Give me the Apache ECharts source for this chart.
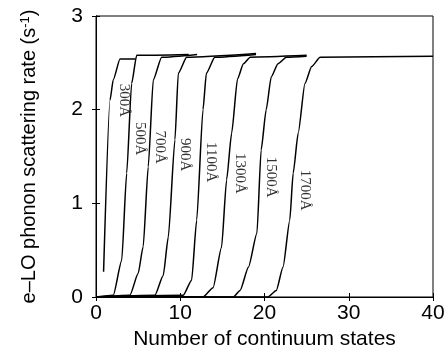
<!DOCTYPE html>
<html>
<head>
<meta charset="utf-8">
<script src="https://cdn.jsdelivr.net/npm/echarts@6/dist/echarts.min.js"></script>
<style>
  html, body { margin: 0; padding: 0; background: #fff; }
  #main { width: 448px; height: 360px; }
</style>
</head>
<body>
<div id="main"></div>
<script>
// curves: x = number of continuum states, y = rate
const names = ['300Å', '500Å', '700Å', '900Å', '1100Å', '1300Å', '1500Å', '1700Å'];

const x300 = [0.9, 1.66, 2.05, 2.85, 4.7];
const y300 = [0.27, 2.1, 2.32, 2.54, 2.54];

const x500 = [0, 2.05, 3.05, 3.64, 4.23, 4.83, 11];
const y500 = [0, 0.02, 0.39, 1.32, 2.28, 2.58, 2.59];

const x700 = [0, 4.03, 5.0, 5.6, 6.2, 6.8, 7.79, 12];
const y700 = [0, 0.02, 0.25, 0.54, 1.39, 2.32, 2.56, 2.59];

const x900 = [0, 7.0, 7.98, 8.58, 9.37, 9.77, 10.76, 19];
const y900 = [0, 0.02, 0.23, 0.64, 1.68, 2.39, 2.56, 2.6];

const x1100 = [0, 10.36, 11.35, 11.95, 12.7, 13.1, 14.1, 19];
const y1100 = [0, 0.02, 0.18, 0.82, 2.0, 2.39, 2.56, 2.59];

const x1300 = [0, 12.7, 13.9, 14.9, 15.5, 16.1, 16.8, 17.5, 18.3, 25];
const y1300 = [0, 0, 0.1, 0.53, 1.25, 1.75, 2.33, 2.49, 2.56, 2.58];

const x1500 = [0, 16.3, 17.1, 18.1, 19.1, 19.6, 20.2, 20.8, 21.6, 22.6, 25];
const y1500 = [0, 0, 0.07, 0.32, 0.68, 1.57, 2.0, 2.35, 2.49, 2.56, 2.57];

const x1700 = [0, 20.4, 21.4, 22.2, 23.0, 23.4, 24.0, 24.8, 25.6, 26.6, 40];
const y1700 = [0, 0, 0.07, 0.32, 0.82, 1.32, 1.75, 2.28, 2.46, 2.56, 2.57];

const curveX = [x300, x500, x700, x900, x1100, x1300, x1500, x1700];
const curveY = [y300, y500, y700, y900, y1100, y1300, y1500, y1700];

// where each thickness label sits (data coordinates)
const labelX = [3.32, 5.2, 7.6, 10.55, 13.6, 17.1, 20.8, 24.8];
const labelY = [2.1, 1.69, 1.6, 1.52, 1.44, 1.32, 1.28, 1.14];

const xTicks = [0, 10, 20, 30, 40];
const yTicks = [0, 1, 2, 3];

const chart = echarts.init(document.getElementById('main'));

const lineSeries = names.map((n, i) => ({
  name: n,
  type: 'line',
  showSymbol: false,
  smooth: 0.2,
  smoothMonotone: 'x',
  lineStyle: { color: '#000', width: 1.5 },
  data: curveX[i].map((x, j) => [x, curveY[i][j]]),
  z: 2
}));

const labelSeries = {
  type: 'scatter',
  symbolSize: 0,
  data: labelX.map((x, i) => ({ value: [x, labelY[i]], name: names[i] })),
  label: {
    show: true,
    position: 'inside',
    formatter: p => p.name,
    rotate: -90,
    fontFamily: 'Liberation Serif',
    fontSize: 15,
    color: '#000'
  },
  z: 3
};

const sans = 'Liberation Sans';
const tickStyle = { inside: true, length: 4, lineStyle: { color: '#000' } };

chart.setOption({
  animation: false,
  grid: {
    left: 96, right: 15, top: 16, bottom: 63,
    show: true, borderColor: '#000', borderWidth: 1
  },
  xAxis: [{
    type: 'value',
    min: 0, max: 40, interval: 10,
    name: 'Number of continuum states',
    nameLocation: 'middle',
    nameGap: 32,
    nameTextStyle: { fontFamily: sans, fontSize: 21, color: '#000' },
    axisLine: { show: true, lineStyle: { color: '#000' } },
    axisTick: tickStyle,
    axisLabel: {
      margin: 6, fontFamily: sans, fontSize: 21, color: '#000',
      formatter: v => xTicks.includes(v) ? String(v) : ''
    },
    splitLine: { show: false }
  }, {
    type: 'value', position: 'top',
    min: 0, max: 40, interval: 10,
    axisLine: { show: true, lineStyle: { color: '#000' } },
    axisTick: tickStyle,
    axisLabel: { show: false },
    splitLine: { show: false }
  }],
  yAxis: [{
    type: 'value',
    min: 0, max: 3, interval: 1,
    name: '{n|e–LO phonon scattering rate (s}{s|-1}{n|)}',
    nameLocation: 'middle',
    nameGap: 56,
    nameRotate: 90,
    nameTextStyle: {
      rich: {
        n: { fontFamily: sans, fontSize: 20, color: '#000' },
        s: { fontFamily: sans, fontSize: 13, color: '#000', verticalAlign: 'top', padding: [0, 0, 8, 0] }
      }
    },
    axisLine: { show: true, lineStyle: { color: '#000' } },
    axisTick: tickStyle,
    axisLabel: {
      margin: 13, fontFamily: sans, fontSize: 21, color: '#000',
      formatter: v => yTicks.includes(v) ? String(v) : ''
    },
    splitLine: { show: false }
  }, {
    type: 'value', position: 'right',
    min: 0, max: 3, interval: 1,
    axisLine: { show: true, lineStyle: { color: '#000' } },
    axisTick: tickStyle,
    axisLabel: { show: false },
    splitLine: { show: false }
  }],
  series: lineSeries.concat([labelSeries])
});
</script>
</body>
</html>
